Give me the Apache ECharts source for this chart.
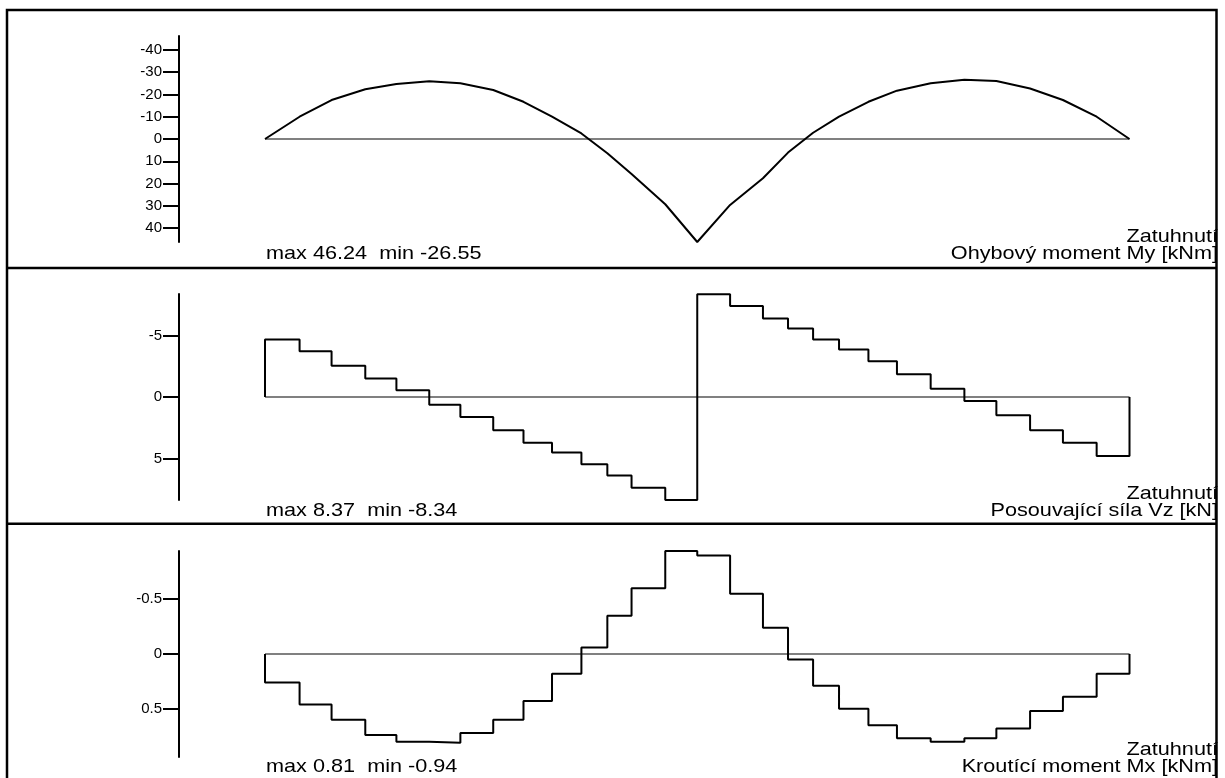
<!DOCTYPE html>
<html><head><meta charset="utf-8">
<script src="https://cdn.jsdelivr.net/npm/echarts@6/dist/echarts.min.js"></script>
<style>html,body{margin:0;padding:0;background:#fff}#c{width:1225px;height:778px}</style>
</head><body><div id="c"></div>
<script>
// Beam stations (m) - section boundaries along the two spans
const stations = [0,0.40,0.77,1.16,1.52,1.90,2.26,2.64,2.99,3.32,3.66,3.96,4.24,4.63,5.00,
                  5.38,5.76,6.05,6.34,6.64,6.98,7.31,7.70,8.09,8.46,8.85,9.23,9.62,10.0];
// Bending moment My [kNm] at stations
const momentMy = [0,-10.0,-17.5,-22.3,-24.7,-25.9,-25.0,-22.0,-16.7,-10.0,-2.5,6.4,15.7,29.3,46.24,
                  29.6,17.6,6.1,-2.8,-10.0,-16.7,-21.7,-25.0,-26.55,-26.0,-22.7,-17.5,-10.0,0];
// Shear force Vz [kN] per section (between stations)
const shearVz = [-4.68,-3.72,-2.53,-1.50,-0.55,0.62,1.63,2.71,3.71,4.52,5.47,6.37,7.37,8.37,
                 -8.34,-7.40,-6.37,-5.56,-4.67,-3.85,-2.90,-1.85,-0.68,0.33,1.49,2.71,3.71,4.80];
// Torsion moment Mx [kNm] per section
const torsionMx = [0.26,0.46,0.60,0.74,0.80,0.81,0.72,0.60,0.43,0.18,-0.06,-0.35,-0.60,-0.94,
                   -0.90,-0.55,-0.24,0.05,0.29,0.50,0.65,0.77,0.80,0.77,0.68,0.52,0.39,0.18];
// Tick labels per panel
const ticksMy = [-40,-30,-20,-10,0,10,20,30,40];
const ticksVz = [-5,0,5];
const ticksMx = [-0.5,0,0.5];
// Extremes and titles
const extMax = [46.24, 8.37, 0.81];
const extMin = [-26.55, -8.34, -0.94];
const axisLimit = [46.24, 8.37, 0.94];
const caseName = 'Zatuhnutí';
const titles = ['Ohybový moment My [kNm]', 'Posouvající síla Vz [kN]', 'Kroutící moment Mx [kNm]'];

const chart = echarts.init(document.getElementById('c'), null, {renderer:'canvas'});

function stepData(vals){
  const d = [[stations[0],0]];
  for (let i=0;i<vals.length;i++) d.push([stations[i+1], vals[i]]);
  d.push([stations[stations.length-1], 0]);
  return d;
}
const momentData = stations.map((s,i)=>[s, momentMy[i]]);
const zeroData = [[stations[0],0],[stations[stations.length-1],0]];

const gridTops = [36, 294, 551];
const grids = gridTops.map(t=>({left:265, right:95.5, top:t, height:206}));
const xAxes = gridTops.map((t,i)=>({type:'value', gridIndex:i, min:stations[0], max:stations[stations.length-1], show:false}));
const tickSets = [ticksMy, ticksVz, ticksMx];
const yAxes = gridTops.map((t,i)=>({
  type:'value', gridIndex:i, inverse:true, min:-axisLimit[i], max:axisLimit[i],
  position:'left', offset:86,
  axisLine:{show:true, onZero:false, lineStyle:{color:'#000', width:2}},
  axisTick:{show:true, length:16, lineStyle:{color:'#000', width:2}, customValues:tickSets[i]},
  axisLabel:{show:true, margin:17, color:'#000', fontSize:15, fontFamily:'Liberation Sans, Arial, sans-serif', customValues:tickSets[i]},
  splitLine:{show:false}
}));

const zeroStyle = {color:'#808080', width:2};
const series = [];
for (let i=0;i<3;i++){
  series.push({type:'line', xAxisIndex:i, yAxisIndex:i, data:zeroData, symbol:'none', silent:true,
    lineStyle:zeroStyle, z:1, animation:false});
}
series.push({type:'line', xAxisIndex:0, yAxisIndex:0, data:momentData, symbol:'none', lineStyle:{color:'#000', width:2}, z:3, animation:false});
series.push({type:'line', xAxisIndex:1, yAxisIndex:1, data:stepData(shearVz), step:'start', symbol:'none', lineStyle:{color:'#000', width:2}, z:3, animation:false});
series.push({type:'line', xAxisIndex:2, yAxisIndex:2, data:stepData(torsionMx), step:'start', symbol:'none', lineStyle:{color:'#000', width:2}, z:3, animation:false});

const font = '19px "Liberation Sans", Arial, sans-serif';
const baseY = [254, 511, 766.5];
const graphic = [];
for (let i=0;i<3;i++){
  graphic.push({type:'text', x:266, y:baseY[i], scaleX:1.14, z:50,
    style:{text:'max ' + extMax[i].toFixed(2) + '  min ' + extMin[i].toFixed(2), font:font, fill:'#000', align:'left', verticalAlign:'middle'}});
  graphic.push({type:'text', x:1218, y:baseY[i], scaleX:1.14, z:50,
    style:{text:titles[i], font:font, fill:'#000', align:'right', verticalAlign:'middle'}});
  graphic.push({type:'text', x:1218, y:baseY[i]-17, scaleX:1.14, z:50,
    style:{text:caseName, font:font, fill:'#000', align:'right', verticalAlign:'middle'}});
}
graphic.push({type:'rect', z:100, shape:{x:7, y:10, width:1209.5, height:800}, style:{fill:null, stroke:'#000', lineWidth:2.5}});
graphic.push({type:'line', z:100, shape:{x1:7, y1:268, x2:1216.5, y2:268}, style:{stroke:'#000', lineWidth:2.5}});
graphic.push({type:'line', z:100, shape:{x1:7, y1:523.7, x2:1216.5, y2:523.7}, style:{stroke:'#000', lineWidth:2.5}});

chart.setOption({
  backgroundColor:'#fff',
  animation:false,
  grid:grids, xAxis:xAxes, yAxis:yAxes, series:series, graphic:graphic
});
</script></body></html>
